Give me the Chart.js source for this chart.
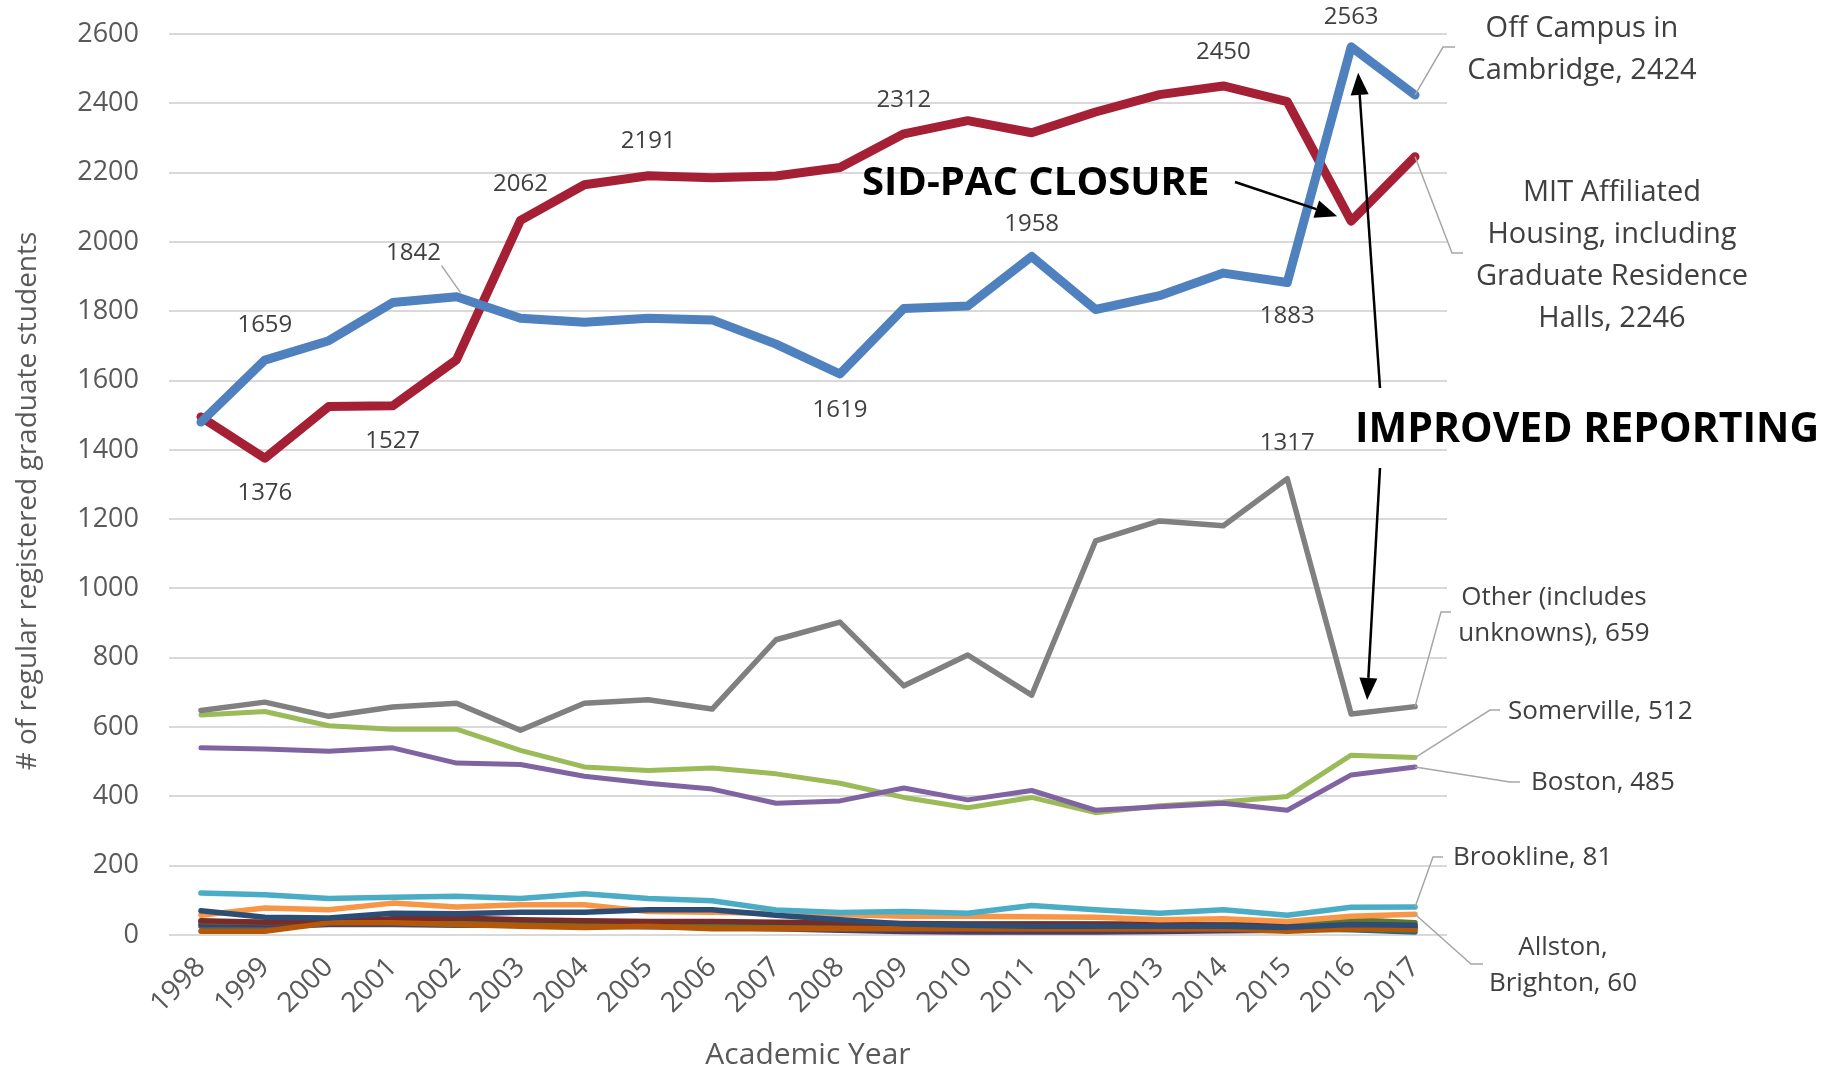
<!DOCTYPE html>
<html><head><meta charset="utf-8">
<script src="https://cdn.jsdelivr.net/npm/chart.js@4/dist/chart.umd.min.js"></script>
<style>html,body{margin:0;padding:0;background:#fff;overflow:hidden}#wrap{width:1840px;height:1073px}</style>
</head><body><div id="wrap"><canvas id="c" width="1840" height="1073"></canvas></div>
<script>
// ---- data ----
const years = ['1998','1999','2000','2001','2002','2003','2004','2005','2006','2007','2008','2009','2010','2011','2012','2013','2014','2015','2016','2017'];
const yTicks = [0,200,400,600,800,1000,1200,1400,1600,1800,2000,2200,2400,2600];
const offCampusCambridge = [1480,1659,1715,1825,1842,1780,1768,1780,1775,1705,1619,1808,1815,1958,1805,1845,1910,1883,2563,2424];
const mitAffiliated = [1495,1376,1525,1527,1660,2062,2165,2191,2185,2190,2215,2312,2350,2315,2375,2425,2450,2405,2060,2246];
const otherIncUnknowns = [648,672,631,658,669,591,669,679,652,852,903,719,808,692,1137,1195,1181,1317,638,659];
const somerville = [635,645,604,594,594,533,485,475,482,465,438,397,367,397,353,373,384,400,519,512];
const boston = [540,537,530,540,496,492,458,438,421,380,387,424,390,417,360,370,380,360,462,485];
const brookline = [121,116,105,109,112,105,119,105,99,72,65,68,63,85,73,63,73,57,80,81];
const allstonBrighton = [57,78,73,92,81,87,87,68,66,62,59,54,54,53,51,44,47,39,54,60];
const minorSeriesNavy = [70,51,49,63,61,66,66,73,73,57,44,32,28,25,25,25,25,22,30,28];
const minorSeriesDarkRed = [41,37,39,47,49,44,41,39,39,37,35,33,32,32,32,30,28,25,22,20];
const minorSeriesOlive = [39,36,37,38,36,35,34,33,32,32,31,31,31,32,31,31,30,29,44,35];
const minorSeriesPurple = [32,30,31,32,30,28,26,24,22,18,14,10,9,9,9,10,12,14,28,25];
const minorSeriesTeal = [25,22,30,30,28,28,27,25,25,24,23,22,22,22,21,20,20,18,15,9];
const minorSeriesBurnt = [11,11,35,35,30,25,22,25,18,18,18,18,18,17,17,17,18,11,18,15];

const FONT = '"Open Sans", "Noto Sans", sans-serif';

function ds(data, color, width){
  return {data, borderColor: color, backgroundColor: color, borderWidth: width, pointRadius: 0, tension: 0,
    borderCapStyle: 'round', borderJoinStyle: 'round', fill: false, clip: false};
}
// first = drawn on top
const datasets = [
  ds(offCampusCambridge, '#4E81BE', 9),
  ds(mitAffiliated, '#A51F35', 9),
  ds(otherIncUnknowns, '#808080', 5.5),
  ds(boston, '#8064A2', 5),
  ds(somerville, '#9BBB59', 5),
  ds(brookline, '#4BACC6', 5.5),
  ds(minorSeriesNavy, '#2C4D75', 5.5),
  ds(allstonBrighton, '#F79646', 5.5),
  ds(minorSeriesBurnt, '#B65708', 5.5),
  ds(minorSeriesDarkRed, '#772C2A', 5.5),
  ds(minorSeriesOlive, '#5F7530', 5.5),
  ds(minorSeriesPurple, '#4D3B62', 5.5),
  ds(minorSeriesTeal, '#276A7C', 5.5),
];

function arrow(ctx, x1, y1, x2, y2){
  const ang = Math.atan2(y2-y1, x2-x1), L = 22, W = 9;
  const bx = x2 - L*Math.cos(ang), by = y2 - L*Math.sin(ang);
  ctx.beginPath(); ctx.moveTo(x1,y1); ctx.lineTo(bx,by); ctx.stroke();
  ctx.beginPath(); ctx.moveTo(x2,y2);
  ctx.lineTo(bx + W*Math.sin(ang), by - W*Math.cos(ang));
  ctx.lineTo(bx - W*Math.sin(ang), by + W*Math.cos(ang));
  ctx.closePath(); ctx.fill();
}

const annot = {
  id: 'annot',
  afterDatasetsDraw(chart){
    const {ctx} = chart; const xs = chart.scales.x, ys = chart.scales.y;
    const px = i => xs.getPixelForValue(i), py = v => ys.getPixelForValue(v);
    ctx.save();
    // y axis title
    ctx.save();
    ctx.translate(28, 501); ctx.rotate(-Math.PI/2);
    ctx.font = '28px ' + FONT; ctx.fillStyle = '#595959'; ctx.textAlign = 'center'; ctx.textBaseline = 'middle';
    ctx.fillText('# of regular registered graduate students', 0, 0);
    ctx.restore();
    // point data labels
    ctx.font = '24px ' + FONT; ctx.fillStyle = '#404040'; ctx.textAlign = 'center'; ctx.textBaseline = 'middle';
    const labels = [
      [offCampusCambridge,1,-35],[mitAffiliated,1,35],[mitAffiliated,3,35],[mitAffiliated,5,-36],
      [mitAffiliated,7,-35],[offCampusCambridge,10,36],[mitAffiliated,11,-34],[offCampusCambridge,13,-32],
      [mitAffiliated,16,-34],[offCampusCambridge,17,34],[otherIncUnknowns,17,-35],[offCampusCambridge,18,-30]
    ];
    labels.forEach(([arr,i,dy]) => ctx.fillText(String(arr[i]), px(i), py(arr[i]) + dy));
    // 1842 with leader
    const bx = px(4), by = py(offCampusCambridge[4]);
    ctx.fillText(String(offCampusCambridge[4]), bx - 43, by - 44);
    ctx.strokeStyle = '#A6A6A6'; ctx.lineWidth = 1.5;
    ctx.beginPath(); ctx.moveTo(bx - 15, by - 31); ctx.lineTo(bx + 4, by - 4); ctx.stroke();

    // right callouts
    const last = years.length - 1, lx = px(last);
    const leader = (v, pts) => { ctx.beginPath(); ctx.moveTo(lx, py(v)); pts.forEach(p => ctx.lineTo(p[0], p[1])); ctx.stroke(); };
    leader(offCampusCambridge[last], [[1443,47],[1455,47]]);
    leader(mitAffiliated[last], [[1452,253],[1463,253]]);
    leader(otherIncUnknowns[last], [[1441,612],[1451,612]]);
    leader(somerville[last], [[1490,710],[1500,710]]);
    leader(boston[last], [[1510,782],[1520,782]]);
    leader(brookline[last], [[1433,857],[1443,857]]);
    leader(allstonBrighton[last], [[1471,964],[1483,964]]);

    ctx.fillStyle = '#404040';
    ctx.font = '29px ' + FONT;
    ctx.fillText('Off Campus in', 1582, 29);
    ctx.fillText('Cambridge, ' + offCampusCambridge[last], 1582, 71);
    ctx.fillText('MIT Affiliated', 1612, 193);
    ctx.fillText('Housing, including', 1612, 235);
    ctx.fillText('Graduate Residence', 1612, 277);
    ctx.fillText('Halls, ' + mitAffiliated[last], 1612, 319);
    ctx.font = '26px ' + FONT;
    ctx.fillText('Other (includes', 1554, 598);
    ctx.fillText('unknowns), ' + otherIncUnknowns[last], 1554, 634);
    ctx.textAlign = 'left';
    ctx.fillText('Somerville, ' + somerville[last], 1508, 712);
    ctx.fillText('Boston, ' + boston[last], 1531, 783);
    ctx.fillText('Brookline, ' + brookline[last], 1453, 858);
    ctx.textAlign = 'center';
    ctx.fillText('Allston,', 1563, 948);
    ctx.fillText('Brighton, ' + allstonBrighton[last], 1563, 984);

    // headline annotations
    ctx.fillStyle = '#000'; ctx.strokeStyle = '#000'; ctx.lineWidth = 2.5;
    ctx.font = 'bold 40px ' + FONT; ctx.textAlign = 'left';
    ctx.fillText('SID-PAC CLOSURE', 862, 184);
    ctx.font = 'bold 41px ' + FONT;
    ctx.fillText('IMPROVED REPORTING', 1355, 430);
    arrow(ctx, 1235, 182, px(18) - 14, py(mitAffiliated[18]) - 5);
    arrow(ctx, 1380, 388, px(18) + 7, py(offCampusCambridge[18]) + 26);
    arrow(ctx, 1380, 468, px(18) + 16, py(otherIncUnknowns[18]) - 14);
    ctx.restore();
  }
};

new Chart(document.getElementById('c'), {
  type: 'line',
  data: {labels: years, datasets},
  options: {
    responsive: false, animation: false, devicePixelRatio: 1,
    layout: {padding: {top: 34, right: 393, left: 0, bottom: 0}},
    plugins: {legend: {display: false}, tooltip: {enabled: false}},
    scales: {
      x: {
        offset: true,
        grid: {display: false, drawTicks: false},
        border: {display: false},
        ticks: {autoSkip: false, minRotation: 45, maxRotation: 45, padding: 16, color: '#595959', font: {family: FONT, size: 28}},
        title: {display: true, text: 'Academic Year', color: '#595959', font: {family: FONT, size: 30}, padding: 0},
        afterFit: s => { s.height = 138; }
      },
      y: {
        min: 0, max: 2600,
        afterBuildTicks: s => { s.ticks = yTicks.map(v => ({value: v})); },
        grid: {color: '#D9D9D9', lineWidth: 2, drawTicks: false},
        border: {display: false},
        ticks: {padding: 30, color: '#595959', font: {family: FONT, size: 27}, callback: v => String(v)},
        afterFit: s => { s.width = 169; s.paddingTop = 10; s.paddingBottom = 10; }
      }
    }
  },
  plugins: [annot]
});
</script>
</body></html>
